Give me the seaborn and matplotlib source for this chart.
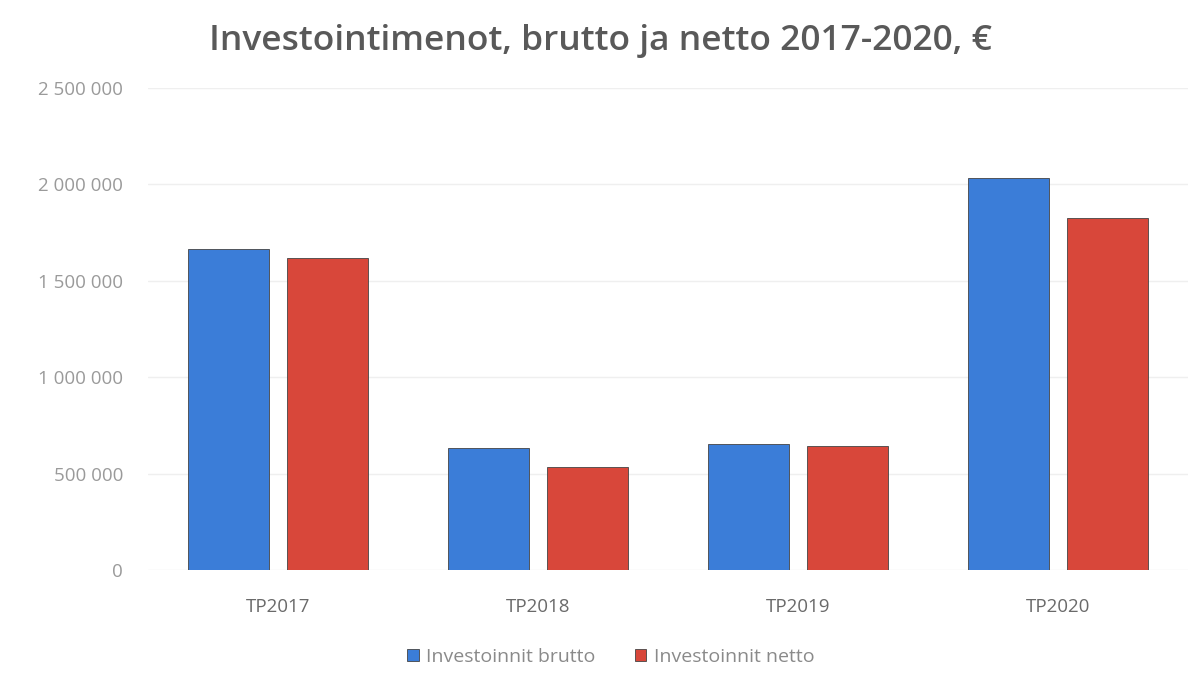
import matplotlib
matplotlib.use("Agg")
import matplotlib.pyplot as plt
import seaborn as sns
import pandas as pd
from matplotlib.ticker import FuncFormatter

categories = ["TP2017", "TP2018", "TP2019", "TP2020"]
brutto = [1665000, 633000, 653000, 2033000]
netto = [1618000, 534000, 643000, 1826000]
series_names = ["Investoinnit brutto", "Investoinnit netto"]

df = pd.DataFrame({
    "cat": categories * 2,
    "value": brutto + netto,
    "series": [series_names[0]] * 4 + [series_names[1]] * 4,
})

sns.set_theme(style="white")
plt.rcParams["font.family"] = ["Open Sans", "DejaVu Sans"]

fig = plt.figure(figsize=(12.01, 6.82), dpi=100)
ax = fig.add_axes([148 / 1201, 1 - 570 / 682, (1188 - 148) / 1201, (570 - 88) / 682])

palette = {series_names[0]: "#3b7dd8", series_names[1]: "#d8473a"}
sns.barplot(data=df, x="cat", y="value", hue="series", palette=palette,
            width=0.76, gap=0.18, ax=ax, edgecolor="#444444", linewidth=0.6,
            saturation=1)

ax.set_ylim(0, 2500000)
ax.set_xlim(-0.5, 3.5)
ax.set_yticks([0, 500000, 1000000, 1500000, 2000000, 2500000])
ax.yaxis.set_major_formatter(FuncFormatter(lambda v, p: f"{int(v):,}".replace(",", " ")))
ax.grid(axis="y", color="#efefef", linewidth=1)
ax.set_axisbelow(True)
for s in ax.spines.values():
    s.set_visible(False)
ax.tick_params(axis="y", colors="#9a9a9a", labelsize=13.5, length=0, pad=18)
ax.tick_params(axis="x", colors="#6a6a6a", labelsize=13.5, length=0, pad=20)
ax.set_xlabel("")
ax.set_ylabel("")

fig.suptitle("Investointimenot, brutto ja netto 2017-2020, €", x=0.5, y=0.965,
             fontsize=25.5, color="#595959", fontweight="semibold")

ax.legend(loc="upper center", bbox_to_anchor=(0.445, -0.125), ncol=2, frameon=False,
          fontsize=14, labelcolor="#8a8a8a", handlelength=0.6, handleheight=0.6,
          columnspacing=2.0, handletextpad=0.4)

fig.savefig("out.png", dpi=100)
